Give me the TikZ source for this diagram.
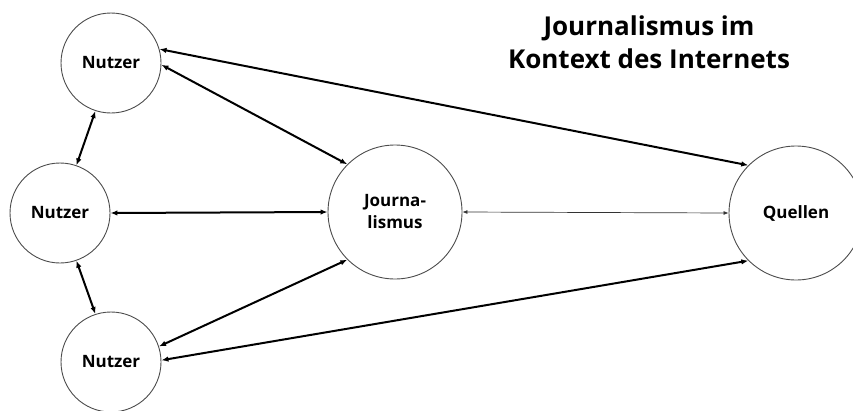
\documentclass[tikz,border=0pt]{standalone}
\usepackage{fontspec}
\setmainfont{Open Sans}
\usetikzlibrary{arrows.meta}
\begin{document}
\begin{tikzpicture}[x=1pt,y=-1pt,
  circ/.style={circle,draw=black!70,line width=0.9pt,inner sep=0pt,align=center,font=\bfseries\fontsize{17}{18}\selectfont},
  link/.style={line width=2pt,{Latex[length=7pt,width=5.5pt]}-{Latex[length=7pt,width=5.5pt]}},
  thin/.style={line width=0.7pt,draw=black!80,{Latex[length=5pt,width=4pt]}-{Latex[length=5pt,width=4pt]}}]
\useasboundingbox (0,0) rectangle (853,410);
\node[circ,minimum size=100pt] (nt) at (111,63) {Nutzer};
\node[circ,minimum size=100pt] (nm) at (60,213) {Nutzer};
\node[circ,minimum size=100pt] (nb) at (111,362) {Nutzer};
\node[circ,minimum size=134pt,font=\bfseries\fontsize{17}{22}\selectfont] (j) at (395,212) {Journa-\\lismus};
\node[circ,minimum size=134pt] (q) at (796,213) {Quellen};
\node[align=center,font=\bfseries\fontsize{26}{33}\selectfont] (t) at (649,42) {Journalismus im\\Kontext des Internets};
\draw[link] (nt.16) -- (q.135);
\draw[link] (nt.-2) -- (j.135);
\draw[link] (nm.east) -- (j.west);
\draw[thin] (j.east) -- (q.west);
\draw[link] (nb.18) -- (j.225);
\draw[link] (nb.2) -- (q.225);
\draw[link] (nt.252) -- (nm.71);
\draw[link] (nm.289) -- (nb.108);
\end{tikzpicture}
\end{document}
